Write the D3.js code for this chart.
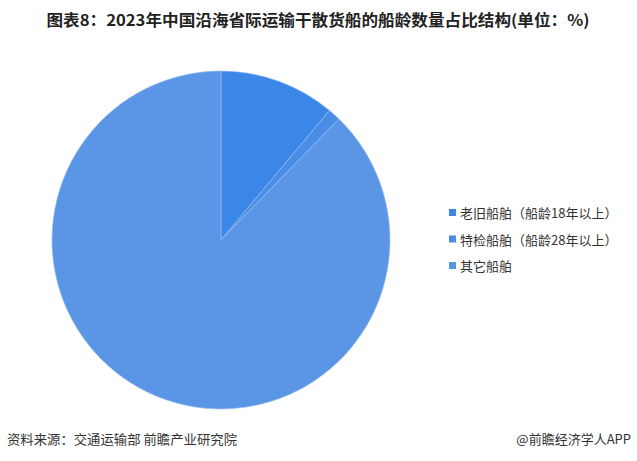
<!DOCTYPE html>
<html><head><meta charset="utf-8">
<script src="https://cdn.jsdelivr.net/npm/d3@7"></script>
<style>body{margin:0;background:#fff;}svg{display:block;font-family:"Noto Sans CJK SC","Noto Sans",sans-serif;}</style>
</head><body>
<svg id="c" width="637" height="461"></svg>
<script>
const categories = ["老旧船舶（船龄18年以上）", "特检船舶（船龄28年以上）", "其它船舶"];
const values = [11.1, 1.2, 87.7];
const colors = ["#3b87e8", "#4a8de6", "#5b96e6"];
const title = "图表8：2023年中国沿海省际运输干散货船的船龄数量占比结构(单位：%)";
const source = "资料来源：交通运输部 前瞻产业研究院";
const credit = "@前瞻经济学人APP";

const svg = d3.select("#c");
svg.append("text").attr("x", 318).attr("y", 26).attr("text-anchor", "middle")
  .attr("font-size", 15.5).attr("font-weight", "bold").attr("fill", "#222")
  .attr("textLength", 543).attr("lengthAdjust", "spacingAndGlyphs").text(title);

const pie = d3.pie().sort(null).value(d => d)(values);
const arc = d3.arc().innerRadius(0).outerRadius(169);
const g = svg.append("g").attr("transform", "translate(221,240)");
g.selectAll("path").data(pie).join("path")
  .attr("d", arc).attr("fill", (d, i) => colors[i])
  .attr("stroke", "#9cc0f0").attr("stroke-width", 0.6);

const color = d3.scaleOrdinal().domain(categories).range(colors);
const y = d3.scalePoint().domain(categories).range([213, 266]);
const lg = svg.append("g");
lg.selectAll("rect").data(categories).join("rect")
  .attr("x", 449).attr("y", d => y(d) - 4).attr("width", 7).attr("height", 7)
  .attr("fill", d => color(d));
lg.selectAll("text").data(categories).join("text")
  .attr("x", 460).attr("y", d => y(d) + 5).attr("font-size", 13).attr("fill", "#333")
  .text(d => d);

svg.append("text").attr("x", 7).attr("y", 444).attr("font-size", 13).attr("fill", "#333")
  .attr("textLength", 230).attr("lengthAdjust", "spacingAndGlyphs").text(source);
svg.append("text").attr("x", 631).attr("y", 444).attr("text-anchor", "end").attr("font-size", 13).attr("fill", "#333").text(credit);
</script>
</body></html>
